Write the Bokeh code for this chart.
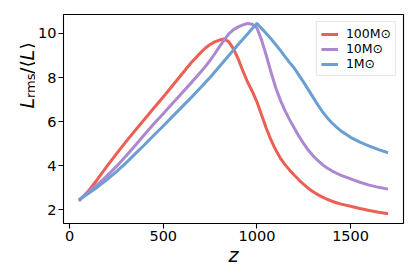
import math
from bokeh.plotting import figure
from bokeh.layouts import row
from bokeh.models import Range1d, FixedTicker, Legend, LegendItem, Label
from bokeh.embed import file_html
from bokeh.resources import INLINE

# ---- data ----
z = [50, 100, 150, 200, 250, 300, 350, 400, 450, 500, 550, 600, 650, 700,
     725, 750, 775, 800, 825, 850, 875, 900, 925, 950, 975, 1000, 1025, 1050, 1075,
     1100, 1125, 1150, 1175, 1200, 1225, 1250, 1275, 1300, 1325, 1350, 1375, 1400,
     1425, 1450, 1500, 1550, 1600, 1650, 1700]
l_100 = [2.40, 2.85, 3.40, 3.98, 4.54, 5.08, 5.60, 6.11, 6.62, 7.12, 7.64, 8.16, 8.68, 9.13,
         9.34, 9.50, 9.62, 9.70, 9.75, 9.62, 9.30, 8.85, 8.30, 7.80, 7.38, 6.90, 6.30, 5.70, 5.17,
         4.72, 4.35, 4.05, 3.80, 3.57, 3.35, 3.15, 2.97, 2.82, 2.69, 2.58, 2.48, 2.39,
         2.32, 2.26, 2.16, 2.06, 1.97, 1.89, 1.82]
l_10 = [2.45, 2.80, 3.16, 3.54, 3.97, 4.43, 4.92, 5.42, 5.90, 6.36, 6.83, 7.30, 7.77, 8.25,
        8.50, 8.78, 9.08, 9.40, 9.70, 9.98, 10.17, 10.30, 10.39, 10.45, 10.42, 10.25, 9.70, 9.00, 8.25,
        7.55, 6.98, 6.50, 6.08, 5.70, 5.33, 5.00, 4.70, 4.45, 4.24, 4.05, 3.90, 3.77,
        3.66, 3.56, 3.40, 3.25, 3.12, 3.02, 2.94]
l_1 = [2.45, 2.74, 3.04, 3.37, 3.73, 4.12, 4.54, 4.95, 5.38, 5.80, 6.24, 6.67, 7.10, 7.55,
       7.78, 8.00, 8.25, 8.50, 8.75, 9.00, 9.25, 9.50, 9.74, 9.98, 10.22, 10.45, 10.23, 10.00, 9.76,
       9.50, 9.23, 8.95, 8.68, 8.42, 8.10, 7.78, 7.44, 7.10, 6.76, 6.45, 6.18, 5.95,
       5.75, 5.57, 5.29, 5.07, 4.89, 4.73, 4.59]
series_labels = ["100M⊙", "10M⊙", "1M⊙"]
series_colors = ["#EC5F55", "#AC88D0", "#6A9FD2"]
x_ticks = [0, 500, 1000, 1500]
y_ticks = [2, 4, 6, 8, 10]

FONT = "DejaVu Sans"

# ---- main plot ----
p = figure(frame_width=340, frame_height=209,
           x_range=Range1d(-32.5, 1782.5), y_range=Range1d(1.38, 10.86),
           output_backend="svg", toolbar_location=None,
           min_border_left=0, min_border_right=8, min_border_top=14, min_border_bottom=0)
p.background_fill_color = "white"
p.border_fill_color = "white"
p.grid.visible = False
p.outline_line_color = "black"
p.outline_line_width = 1.1

for ax, ticks in ((p.xaxis[0], x_ticks), (p.yaxis[0], y_ticks)):
    ax.ticker = FixedTicker(ticks=ticks)
    ax.axis_line_color = None
    ax.major_tick_out = 5
    ax.major_tick_in = 0
    ax.minor_tick_out = 0
    ax.minor_tick_in = 0
    ax.major_tick_line_color = "black"
    ax.major_tick_line_width = 1.1
    ax.major_label_text_font = FONT
    ax.major_label_text_font_size = "14.5px"
    ax.major_label_text_color = "black"
    ax.major_label_standoff = 2

p.xaxis.axis_label = "z"
p.xaxis.axis_label_text_font = FONT
p.xaxis.axis_label_text_font_style = "italic"
p.xaxis.axis_label_text_font_size = "19px"
p.xaxis.axis_label_text_color = "black"
p.xaxis.axis_label_standoff = 0

renderers = []
for ys, col in zip((l_100, l_10, l_1), series_colors):
    r = p.line(z, ys, line_color=col, line_width=3, line_join="round")
    renderers.append(r)

legend = Legend(items=[LegendItem(label=lab, renderers=[r]) for lab, r in zip(series_labels, renderers)],
                location="top_right", margin=7, padding=4, spacing=0,
                glyph_width=17, glyph_height=14, label_height=14, label_standoff=8,
                label_text_font=FONT, label_text_font_size="12.5px", label_text_color="black",
                border_line_color="#cccccc", border_line_width=1,
                background_fill_color="white", background_fill_alpha=0.8)
p.add_layout(legend)

# ---- narrow strip on the left holding the y-axis label  L_rms/<L> ----
LAB_H = 269
lab = figure(width=35, height=LAB_H, output_backend="svg", toolbar_location=None,
             x_axis_type=None, y_axis_type=None, min_border=0,
             x_range=Range1d(0, 1), y_range=Range1d(0, 1))
lab.outline_line_color = None
lab.grid.visible = False
lab.background_fill_color = "white"
lab.border_fill_color = "white"

ang = math.pi / 2
# (text, baseline x, start y measured from the top, size, style)
pieces = [
    ("L", 26.5, 153, "19px", "italic"),
    ("rms", 30, 142.5, "13px", "normal"),
    ("/⟨", 26.5, 118.5, "19px", "normal"),
    ("L", 26.5, 105, "19px", "italic"),
    ("⟩", 26.5, 94, "19px", "normal"),
]
for txt, sx, sy, fs, st in pieces:
    lab.add_layout(Label(x=sx, y=LAB_H - sy, x_units="screen", y_units="screen", text=txt, angle=ang,
                         text_align="left", text_baseline="alphabetic", text_font=FONT,
                         text_font_size=fs, text_font_style=st, text_color="black"))

layout = row(lab, p, spacing=0)
open("out.html", "w").write(file_html(layout, INLINE))
